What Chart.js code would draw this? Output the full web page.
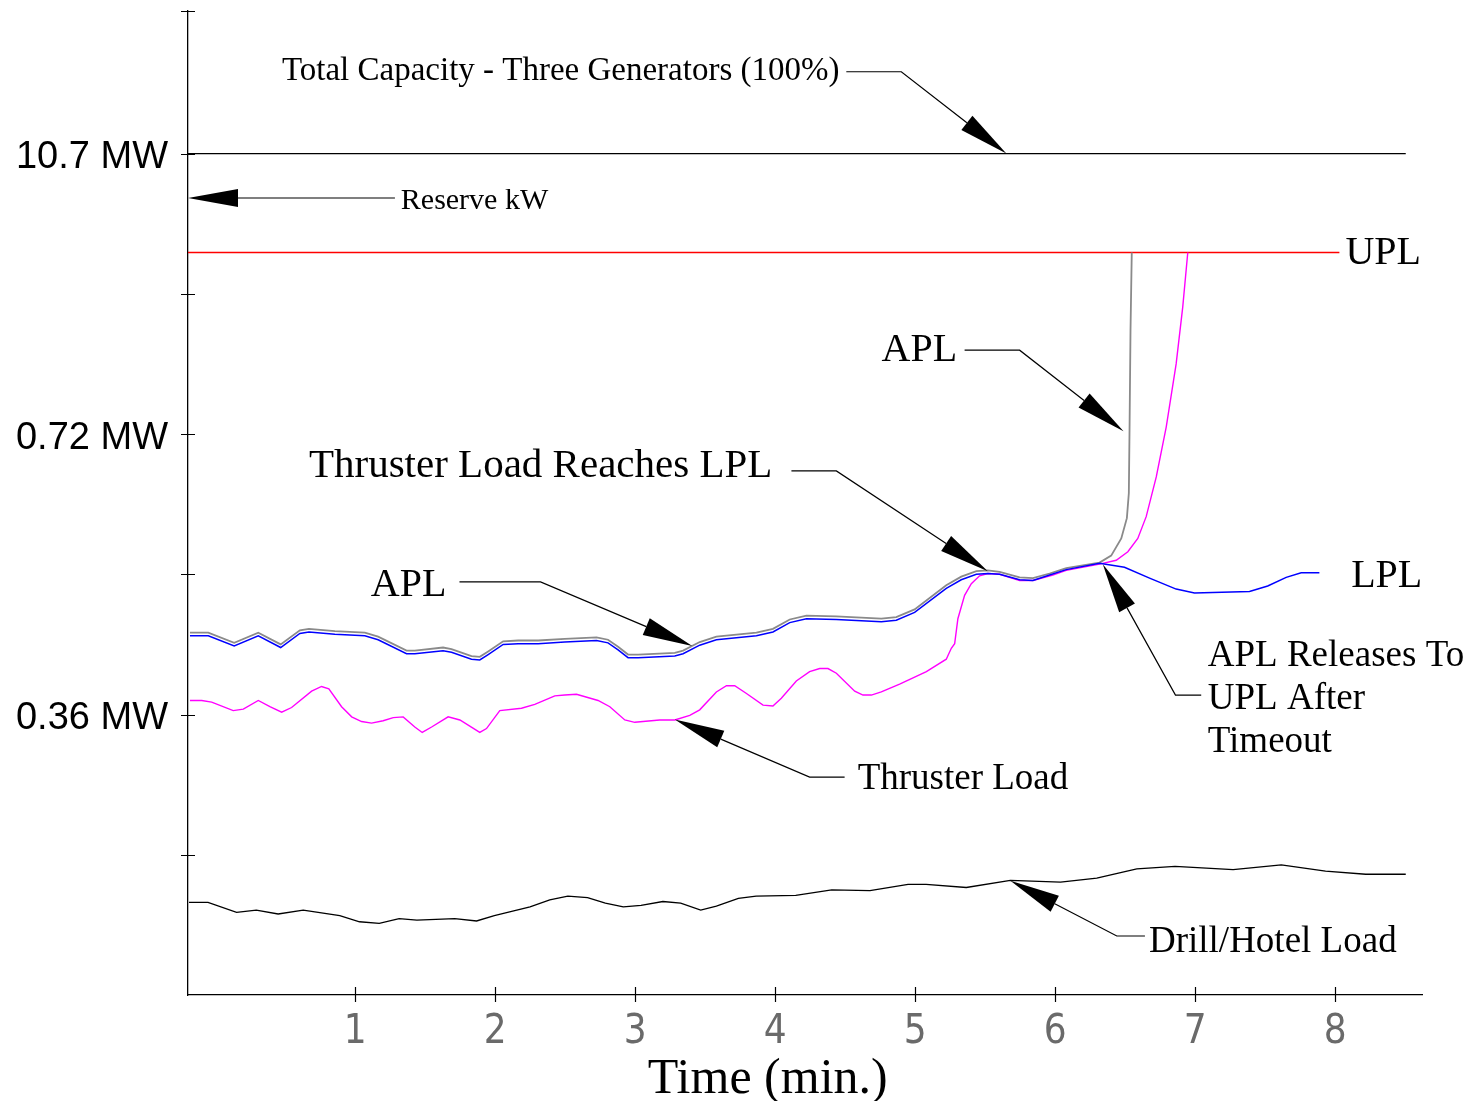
<!DOCTYPE html>
<html><head><meta charset="utf-8">
<script src="https://cdn.jsdelivr.net/npm/chart.js@4.4.1/dist/chart.umd.min.js"></script>
<style>html,body{margin:0;padding:0;background:#fff}#wrap{width:1473px;height:1101px}</style>
</head><body><div id="wrap"><canvas id="c" width="1473" height="1101"></canvas></div>
<script>
// ---- data (time in minutes, load in MW) ----
const lplTime = [-0.180,-0.049,0.136,0.308,0.468,0.605,0.670,0.855,1.069,1.164,1.367,1.426,1.628,1.688,1.831,1.890,1.950,2.057,2.164,2.307,2.497,2.724,2.806,2.878,2.949,3.021,3.283,3.342,3.461,3.580,3.866,3.984,4.104,4.223,4.437,4.758,4.865,4.996,5.222,5.329,5.437,5.519,5.603,5.746,5.841,5.960,6.079,6.317,6.495,6.674,6.864,6.995,7.388,7.518,7.650,7.757,7.887];
const lplMW   = [0.461,0.461,0.448,0.461,0.446,0.464,0.466,0.463,0.461,0.456,0.438,0.438,0.442,0.440,0.431,0.430,0.437,0.450,0.451,0.451,0.453,0.455,0.452,0.443,0.433,0.433,0.435,0.438,0.449,0.456,0.461,0.466,0.478,0.483,0.482,0.479,0.481,0.491,0.522,0.533,0.540,0.541,0.540,0.533,0.532,0.539,0.546,0.554,0.549,0.535,0.521,0.516,0.518,0.525,0.536,0.542,0.542];

const aplTime = [-0.180,-0.049,0.136,0.308,0.468,0.605,0.670,0.855,1.069,1.164,1.367,1.426,1.628,1.688,1.831,1.890,1.950,2.057,2.164,2.307,2.497,2.724,2.806,2.878,2.949,3.021,3.283,3.342,3.461,3.580,3.866,3.984,4.104,4.223,4.437,4.758,4.865,4.996,5.222,5.329,5.437,5.519,5.603,5.746,5.841,5.960,6.079,6.317,6.400,6.472,6.512,6.526,6.531,6.538,6.547];
const aplMW   = [0.465,0.465,0.452,0.465,0.450,0.468,0.470,0.467,0.465,0.460,0.442,0.442,0.446,0.444,0.435,0.434,0.441,0.454,0.455,0.455,0.457,0.459,0.456,0.447,0.437,0.437,0.439,0.442,0.453,0.460,0.465,0.470,0.482,0.487,0.486,0.483,0.485,0.495,0.526,0.537,0.544,0.545,0.543,0.536,0.535,0.541,0.548,0.555,0.564,0.586,0.612,0.644,0.725,0.853,0.953];

const thrusterTime = [-0.180,-0.096,-0.025,0.129,0.201,0.308,0.391,0.475,0.546,0.689,0.760,0.812,0.903,0.975,1.046,1.117,1.200,1.272,1.343,1.426,1.479,1.546,1.664,1.748,1.890,1.938,2.033,2.188,2.283,2.426,2.497,2.581,2.735,2.819,2.926,2.997,3.175,3.283,3.390,3.461,3.580,3.652,3.711,3.795,3.913,3.984,4.044,4.151,4.246,4.318,4.377,4.437,4.568,4.627,4.687,4.758,4.889,5.080,5.222,5.258,5.282,5.305,5.353,5.401,5.460,5.519,5.603,5.746,5.841,5.983,6.079,6.317,6.436,6.519,6.590,6.650,6.722,6.793,6.864,6.911,6.947];
const thrusterMW   = [0.378,0.378,0.376,0.365,0.367,0.378,0.370,0.363,0.369,0.390,0.396,0.393,0.370,0.357,0.351,0.349,0.352,0.356,0.357,0.344,0.337,0.344,0.357,0.353,0.337,0.342,0.365,0.368,0.373,0.384,0.385,0.386,0.378,0.370,0.353,0.350,0.353,0.353,0.359,0.366,0.389,0.397,0.397,0.387,0.372,0.371,0.381,0.403,0.415,0.419,0.419,0.413,0.390,0.385,0.385,0.389,0.399,0.415,0.431,0.445,0.451,0.483,0.513,0.528,0.538,0.541,0.540,0.532,0.532,0.539,0.545,0.553,0.558,0.569,0.586,0.614,0.665,0.729,0.810,0.883,0.953];

const drillTime = [-0.187,-0.051,0.153,0.294,0.450,0.629,0.890,1.031,1.172,1.314,1.441,1.711,1.867,1.994,2.249,2.390,2.519,2.660,2.787,2.915,3.042,3.198,3.325,3.468,3.580,3.737,3.864,4.147,4.404,4.677,4.949,5.078,5.365,5.680,6.038,6.297,6.583,6.856,7.271,7.615,7.931,8.218,8.504];
const drillMW   = [0.119,0.119,0.106,0.109,0.104,0.109,0.102,0.094,0.092,0.098,0.096,0.098,0.095,0.102,0.113,0.122,0.127,0.125,0.118,0.113,0.115,0.120,0.118,0.109,0.114,0.124,0.127,0.128,0.135,0.134,0.142,0.142,0.138,0.147,0.145,0.150,0.162,0.165,0.161,0.167,0.159,0.155,0.155];

const capacityTime = [-0.194, 8.504];
const capacityMW   = [1.08, 1.08];
const uplTime = [-0.194, 8.03];
const uplMW   = [0.953, 0.953];

const xTickValues = [1,2,3,4,5,6,7,8];
const xTickLabels = ['1','2','3','4','5','6','7','8'];
const yTickValues = [0.18,0.36,0.54,0.72,0.90,1.08];
const yTickLabels = ['','0.36 MW','','0.72 MW','','10.7 MW'];
const xRange = [-0.194, 8.62];
const yRange = [0, 1.263];

// ---- annotations (text + leader arrows, in data units) ----
const notes = [
  {lines:['Total Capacity - Three Generators (100%)'], size:33, at:[0.477,1.174], path:[[4.508,1.185],[4.901,1.185],[5.651,1.08]]},
  {lines:['Reserve kW'], size:30, at:[1.326,1.009], path:[[1.284,1.023],[-0.194,1.023]]},
  {lines:['UPL'], size:40, at:[8.073,0.9379]},
  {lines:['APL'], size:40, at:[4.760,0.8134], path:[[5.353,0.8276],[5.746,0.8276],[6.488,0.7236]]},
  {lines:['Thruster Load Reaches LPL'], size:41, at:[0.670,0.6646], path:[[4.116,0.6727],[4.437,0.6727],[5.519,0.544]]},
  {lines:['APL'], size:40, at:[1.112,0.512], path:[[1.745,0.5303],[2.324,0.5303],[3.408,0.4478]]},
  {lines:['LPL'], size:40, at:[8.114,0.5235]},
  {lines:['APL Releases To','UPL After','Timeout'], size:37, at:[7.090,0.4221], path:[[7.043,0.3849],[6.859,0.3849],[6.340,0.553]]},
  {lines:['Thruster Load'], size:37, at:[4.589,0.2643], path:[[4.496,0.2797],[4.246,0.2797],[3.283,0.3537]]},
  {lines:['Drill/Hotel Load'], size:37, at:[6.670,0.0556], path:[[6.641,0.0757],[6.440,0.0757],[5.680,0.1467]]}
];

const pts = (xs, ys) => xs.map((x, i) => ({x, y: ys[i]}));

const overlay = {
  id: 'overlay',
  afterDraw(chart) {
    const {ctx, scales: {x, y}, chartArea: ca} = chart;
    ctx.save();
    // crossing tick marks
    ctx.strokeStyle = '#000'; ctx.lineWidth = 1.2;
    ctx.beginPath();
    [...yTickValues, yRange[1]].forEach(v => {
      const py = Math.round(y.getPixelForValue(v)) + 0.5;
      ctx.moveTo(ca.left - 7, py); ctx.lineTo(ca.left + 7, py);
    });
    xTickValues.forEach(v => {
      const px = Math.round(x.getPixelForValue(v)) + 0.5;
      ctx.moveTo(px, ca.bottom - 8); ctx.lineTo(px, ca.bottom + 7);
    });
    ctx.stroke();

    // axis title
    ctx.fillStyle = '#000';
    ctx.font = '50px "Liberation Serif", "Times New Roman", serif';
    ctx.textAlign = 'center'; ctx.textBaseline = 'alphabetic';
    ctx.fillText('Time (min.)', x.getPixelForValue(3.947), ca.bottom + 98);

    // annotations
    ctx.textAlign = 'left';
    notes.forEach(n => {
      ctx.font = n.size + 'px "Liberation Serif", "Times New Roman", serif';
      const tx = x.getPixelForValue(n.at[0]), ty = y.getPixelForValue(n.at[1]);
      n.lines.forEach((s, i) => ctx.fillText(s, tx, ty + i * 43));
      if (n.path) {
        const P = n.path.map(p => [x.getPixelForValue(p[0]), y.getPixelForValue(p[1])]);
        const tip = P[P.length - 1], prev = P[P.length - 2];
        const dx = tip[0] - prev[0], dy = tip[1] - prev[1], L = Math.hypot(dx, dy);
        const ux = dx / L, uy = dy / L, AL = 50, AW = 9;
        const bx = tip[0] - ux * AL, by = tip[1] - uy * AL;
        ctx.strokeStyle = '#000'; ctx.lineWidth = 1.2;
        ctx.beginPath();
        ctx.moveTo(P[0][0], P[0][1]);
        for (let i = 1; i < P.length - 1; i++) ctx.lineTo(P[i][0], P[i][1]);
        ctx.lineTo(bx, by);
        ctx.stroke();
        ctx.beginPath();
        ctx.moveTo(tip[0], tip[1]);
        ctx.lineTo(bx - uy * AW, by + ux * AW);
        ctx.lineTo(bx + uy * AW, by - ux * AW);
        ctx.closePath(); ctx.fill();
      }
    });
    ctx.restore();
  }
};

const line = (data, color, width, order) => ({data, borderColor: color, borderWidth: width, pointRadius: 0, tension: 0, fill: false, order});

new Chart(document.getElementById('c'), {
  type: 'line',
  data: {
    datasets: [
      line(pts(lplTime, lplMW), '#0000ff', 1.5, 1),
      line(pts(thrusterTime, thrusterMW), '#ff00ff', 1.4, 2),
      line(pts(aplTime, aplMW), '#8a8a8a', 1.8, 3),
      line(pts(drillTime, drillMW), '#000000', 1.3, 4),
      line(pts(uplTime, uplMW), '#ff0000', 1.3, 5),
      line(pts(capacityTime, capacityMW), '#000000', 1.3, 6)
    ]
  },
  options: {
    responsive: false, animation: false, devicePixelRatio: 1,
    layout: {padding: {top: 11, right: 51, left: 0, bottom: 0}},
    plugins: {legend: {display: false}, tooltip: {enabled: false}},
    scales: {
      x: {
        type: 'linear', min: xRange[0], max: xRange[1],
        afterBuildTicks: s => { s.ticks = xTickValues.map(v => ({value: v})); },
        afterFit: s => { s.height = 106; s.paddingLeft = 0; s.paddingRight = 0; },
        grid: {display: false, drawTicks: false},
        border: {display: true, color: '#000', width: 1.3},
        ticks: {
          autoSkip: false, maxRotation: 0, padding: 14, color: '#6a6a6a',
          font: {family: '"Liberation Sans Narrow", "DejaVu Sans Condensed", sans-serif', size: 40, weight: 'normal'},
          callback: (v, i) => xTickLabels[i]
        }
      },
      y: {
        type: 'linear', min: yRange[0], max: yRange[1],
        afterBuildTicks: s => { s.ticks = yTickValues.map(v => ({value: v})); },
        afterFit: s => { s.width = 188; s.paddingTop = 0; s.paddingBottom = 0; },
        grid: {display: false, drawTicks: false},
        border: {display: true, color: '#000', width: 1.3},
        ticks: {
          autoSkip: false, padding: 20, color: '#000', labelOffset: 4,
          font: {family: '"Liberation Sans", Arial, sans-serif', size: 38},
          callback: (v, i) => yTickLabels[i]
        }
      }
    }
  },
  plugins: [overlay]
});
</script></body></html>
